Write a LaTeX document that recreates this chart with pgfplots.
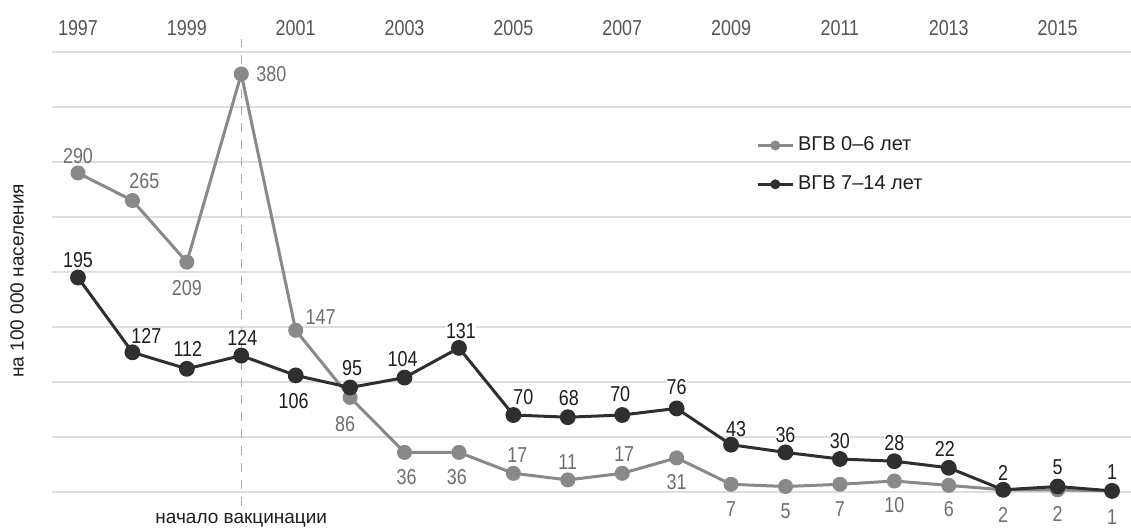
\documentclass[border=0pt]{standalone}
\usepackage{fontspec}
\setmainfont{Liberation Sans}
\newfontfamily\numfont[FakeStretch=0.83]{Liberation Sans}
\usepackage{pgfplots}
\pgfplotsset{compat=1.18}
\usepackage{pgfplotstable}
\definecolor{grayser}{HTML}{898989}
\definecolor{darkser}{HTML}{2F2F2F}
\definecolor{graytxt}{HTML}{6E6E6E}
\definecolor{darktxt}{HTML}{1E1E1E}
\definecolor{yeartxt}{HTML}{555555}
\definecolor{gridc}{HTML}{DEDEDE}
\definecolor{dashc}{HTML}{ABABAB}

\pgfplotstableread{
x y dx dy lab
1997 290 0 8.5 290
1998 265 6 9.5 265
1999 209 0 -13 209
2000 380 15 0 380
2001 147 12.5 6.5 147
2002 86 -2.5 -13.5 86
2003 36 1 -12.5 36
2004 36 -1 -12.5 36
2005 17 2 9 17
2006 11 0 9 11
2007 17 1 9.5 17
2008 31 0 -12 31
2009 7 0 -12.5 7
2010 5 0 -12.5 5
2011 7 0 -12.5 7
2012 10 0 -12 10
2013 6 0 -12 6
2014 2 0 -12.5 2
2015 2 0 -12 2
2016 1 0 -13 1
}\grayt

\pgfplotstableread{
x y dx dy lab
1997 195 0 8.5 195
1998 127 7 8 127
1999 112 0.5 10 112
2000 124 0.5 9 124
2001 106 -1 -13 106
2002 95 1 9.5 95
2003 104 -1 9.5 104
2004 131 1 8.5 131
2005 70 5 9 70
2006 68 0.5 9.5 68
2007 70 -1 10.5 70
2008 76 0 10.5 76
2009 43 2.5 8 43
2010 36 0 8.5 36
2011 30 0 9 30
2012 28 0 9 28
2013 22 -2 9.5 22
2014 2 0 8.5 2
2015 5 0 9.5 5
2016 1 0 9.5 1
}\darkt

\newcommand{\numsize}{\numfont\fontsize{10.8}{12}\selectfont}
\newcommand{\txtsize}{\fontsize{9.5}{11}\selectfont}
\newcommand{\legsize}{\fontsize{10}{12}\selectfont}

\begin{document}
\begin{tikzpicture}
\begin{axis}[
  scale only axis, width=539.5pt, height=220pt,
  xmin=1996.522, xmax=2016.349, ymin=0, ymax=400,
  clip=false,
  axis line style={draw=none},
  xtick={1997,1999,...,2015},
  xticklabels={1997,1999,2001,2003,2005,2007,2009,2011,2013,2015},
  xticklabel pos=upper,
  xticklabel style={anchor=base, yshift=8.5pt, font=\numsize, text=yeartxt},
  ytick={0,50,...,400}, yticklabels={},
  ymajorgrids, grid style={gridc, line width=1pt},
  major tick length=0pt,
  ylabel={на 100 000 населения},
  every axis y label/.style={at={(rel axis cs:-0.0324,0.48)}, rotate=90, anchor=center, font=\txtsize, text=darktxt},
  legend style={at={(rel axis cs:0.647,0.826)}, anchor=north west, draw=none, fill=none,
    font=\legsize, text=darktxt, row sep=7pt, cells={anchor=west}},
  legend image code/.code={\draw[#1, mark size=1.8pt, line width=1.3pt, mark repeat=2, mark phase=2]
     plot coordinates {(0pt,0pt) (8.75pt,0pt) (17.5pt,0pt)};},
]
\draw[dashc, line width=0.75pt, dash pattern=on 4.5pt off 4pt] (axis cs:2000,-13) -- (axis cs:2000,412);
\node[font=\txtsize, text=darktxt, anchor=center] at (axis cs:2000,-25.5) {начало вакцинации};

\addplot[grayser, line width=1.5pt, mark=*, mark size=3pt, mark options={grayser},
  nodes near coords={\pgfplotspointmeta}, point meta=explicit symbolic,
  visualization depends on={\thisrow{dx} \as \mydx},
  visualization depends on={\thisrow{dy} \as \mydy},
  every node near coord/.append style={anchor=center, xshift=\mydx pt, yshift=\mydy pt, text=graytxt, font=\numsize}]
  table[x=x, y=y, meta=lab] {\grayt};
\addlegendentry{ВГВ 0–6 лет}

\addplot[darkser, line width=1.5pt, mark=*, mark size=3.2pt, mark options={darkser},
  nodes near coords={\pgfplotspointmeta}, point meta=explicit symbolic,
  visualization depends on={\thisrow{dx} \as \mydx},
  visualization depends on={\thisrow{dy} \as \mydy},
  every node near coord/.append style={anchor=center, xshift=\mydx pt, yshift=\mydy pt, text=darktxt, font=\numsize, fill=white, inner sep=0pt}]
  table[x=x, y=y, meta=lab] {\darkt};
\addlegendentry{ВГВ 7–14 лет}

\coordinate (bbsw) at (rel axis cs:-0.04819,-0.08409);
\coordinate (bbne) at (rel axis cs:1,1.11818);
\end{axis}
\pgfresetboundingbox
\path[use as bounding box] (bbsw) rectangle (bbne);
\end{tikzpicture}
\end{document}
